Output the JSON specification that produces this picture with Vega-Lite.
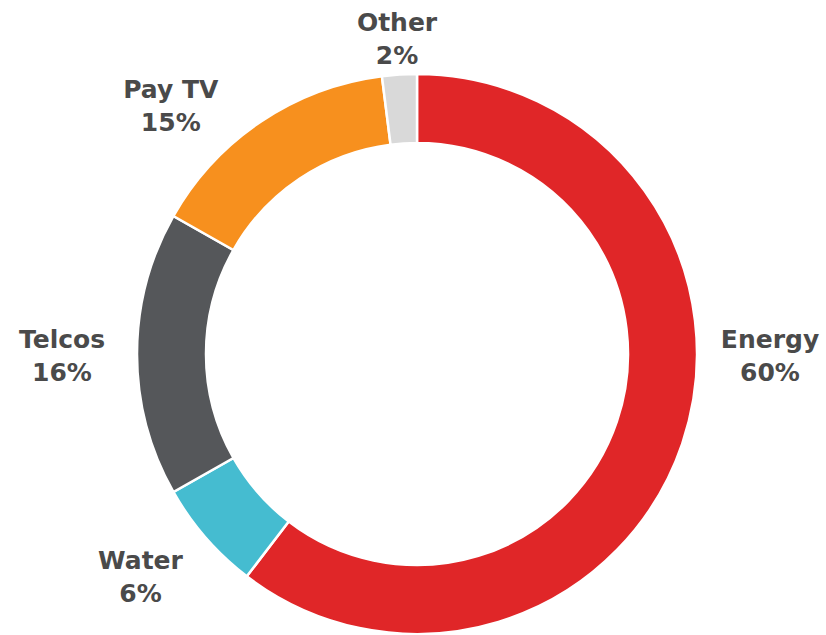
{
  "$schema": "https://vega.github.io/schema/vega-lite/v6.json",
  "autosize": "none",
  "width": 818,
  "height": 562,
  "padding": {"left": 8, "top": 73, "right": 0, "bottom": 0},
  "background": "white",
  "view": {"stroke": null},
  "data": {
    "values": [
      {"cat": "Energy", "value": 60.4, "pct": "60%", "ord": 1},
      {"cat": "Water", "value": 6.4, "pct": "6%", "ord": 2},
      {"cat": "Telcos", "value": 16.4, "pct": "16%", "ord": 3},
      {"cat": "Pay TV", "value": 14.8, "pct": "15%", "ord": 4},
      {"cat": "Other", "value": 2.0, "pct": "2%", "ord": 5}
    ]
  },
  "transform": [{"calculate": "datum.cat + '\\n' + datum.pct", "as": "label"}],
  "encoding": {
    "theta": {"field": "value", "type": "quantitative", "stack": true},
    "order": {"field": "ord", "type": "quantitative", "sort": "ascending"}
  },
  "layer": [
    {
      "mark": {"type": "arc", "outerRadius": 280, "innerRadius": 211, "stroke": "#ffffff", "strokeWidth": 2.5},
      "encoding": {
        "color": {
          "field": "cat",
          "type": "nominal",
          "scale": {
            "domain": ["Energy", "Water", "Telcos", "Pay TV", "Other"],
            "range": ["#e02628", "#45bcd0", "#55575a", "#f7901e", "#d9d9d9"]
          },
          "legend": null
        }
      }
    },
    {
      "mark": {"type": "text", "radius": 353, "thetaOffset": -0.3255, "dy": -14, "font": "DejaVu Sans", "fontWeight": "bold", "fontSize": 25, "lineBreak": "\n", "lineHeight": 33, "align": "center", "baseline": "middle", "color": "#4a4a4a"},
      "encoding": {"text": {"condition": {"test": "datum.cat === 'Energy'", "field": "label"}, "value": ""}}
    },
    {
      "mark": {"type": "text", "radius": 354, "thetaOffset": 0.042, "dy": -14, "font": "DejaVu Sans", "fontWeight": "bold", "fontSize": 25, "lineBreak": "\n", "lineHeight": 33, "align": "center", "baseline": "middle", "color": "#4a4a4a"},
      "encoding": {"text": {"condition": {"test": "datum.cat === 'Water'", "field": "label"}, "value": ""}}
    },
    {
      "mark": {"type": "text", "radius": 355, "dy": -14, "font": "DejaVu Sans", "fontWeight": "bold", "fontSize": 25, "lineBreak": "\n", "lineHeight": 33, "align": "center", "baseline": "middle", "color": "#4a4a4a"},
      "encoding": {"text": {"condition": {"test": "datum.cat === 'Telcos'", "field": "label"}, "value": ""}}
    },
    {
      "mark": {"type": "text", "radius": 351, "thetaOffset": -0.1868, "dy": -14, "font": "DejaVu Sans", "fontWeight": "bold", "fontSize": 25, "lineBreak": "\n", "lineHeight": 33, "align": "center", "baseline": "middle", "color": "#4a4a4a"},
      "encoding": {"text": {"condition": {"test": "datum.cat === 'Pay TV'", "field": "label"}, "value": ""}}
    },
    {
      "mark": {"type": "text", "radius": 318, "dy": -14, "font": "DejaVu Sans", "fontWeight": "bold", "fontSize": 25, "lineBreak": "\n", "lineHeight": 33, "align": "center", "baseline": "middle", "color": "#4a4a4a"},
      "encoding": {"text": {"condition": {"test": "datum.cat === 'Other'", "field": "label"}, "value": ""}}
    }
  ]
}
